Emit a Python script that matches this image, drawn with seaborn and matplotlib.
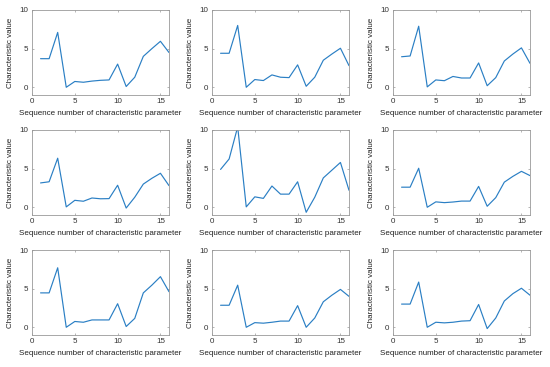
import numpy as np
import pandas as pd
import matplotlib
matplotlib.use("Agg")
import matplotlib.pyplot as plt
import seaborn as sns

seq = list(range(1, 17))
p1 = [3.7, 3.7, 7.1, 0.0, 0.75, 0.65, 0.8, 0.9, 0.95, 3.0, 0.1, 1.3, 4.0, 5.0, 5.95, 4.5]
p2 = [4.4, 4.4, 8.0, 0.0, 1.0, 0.87, 1.6, 1.3, 1.25, 2.9, 0.13, 1.3, 3.5, 4.3, 5.05, 2.8]
p3 = [3.95, 4.05, 7.9, 0.05, 0.95, 0.85, 1.4, 1.2, 1.2, 3.15, 0.2, 1.25, 3.4, 4.3, 5.1, 3.1]
p4 = [3.15, 3.3, 6.35, 0.05, 0.9, 0.78, 1.2, 1.1, 1.12, 2.85, -0.1, 1.3, 3.0, 3.75, 4.4, 2.8]
p5 = [4.9, 6.25, 10.4, 0.05, 1.35, 1.15, 2.75, 1.7, 1.7, 3.3, -0.65, 1.3, 3.8, 4.8, 5.8, 2.2]
p6 = [2.6, 2.6, 5.05, 0.0, 0.7, 0.6, 0.68, 0.8, 0.8, 2.7, 0.13, 1.25, 3.25, 4.0, 4.65, 4.1]
p7 = [4.45, 4.45, 7.7, 0.0, 0.75, 0.65, 0.95, 0.95, 0.95, 3.05, 0.1, 1.15, 4.45, 5.45, 6.55, 4.6]
p8 = [2.85, 2.85, 5.45, 0.0, 0.6, 0.53, 0.65, 0.8, 0.8, 2.8, 0.0, 1.2, 3.3, 4.15, 4.9, 4.0]
p9 = [3.0, 3.0, 5.85, 0.0, 0.65, 0.57, 0.65, 0.8, 0.85, 2.95, -0.17, 1.2, 3.4, 4.35, 5.05, 4.15]
panels = [p1, p2, p3, p4, p5, p6, p7, p8, p9]

xlabel = "Sequence number of characteristic parameter"
ylabel = "Characteristic value"
xticks = [0, 5, 10, 15]
yticks = [0, 5, 10]

sns.set_style("white")
plt.rcParams['font.family'] = ['Liberation Sans', 'DejaVu Sans']

fig = plt.figure(figsize=(5.5, 3.67), dpi=100)
lefts = [32, 212, 393]
bottoms_px = [95, 215, 335]
w_px, h_px = 137, 85
W, H = 550, 367
fs = 5.8

for i, vals in enumerate(panels):
    r, c = divmod(i, 3)
    ax = fig.add_axes([lefts[c] / W, 1 - bottoms_px[r] / H, w_px / W, h_px / H])
    df = pd.DataFrame({"x": seq, "y": vals})
    sns.lineplot(data=df, x="x", y="y", ax=ax, color="#2a7fc4", linewidth=0.85)
    ax.set_xlim(0, 16)
    ax.set_ylim(-1, 10)
    ax.set_xticks(xticks)
    ax.set_yticks(yticks)
    ax.tick_params(direction="in", length=1.5, width=0.5, colors="#999999",
                   labelcolor="#333333", labelsize=fs, pad=2.5,
                   top=True, right=True, bottom=True, left=True)
    for s in ax.spines.values():
        s.set_color("#999999")
        s.set_linewidth(0.6)
    ax.set_xlabel(xlabel, fontsize=fs, color="#222222", labelpad=3)
    ax.set_ylabel(ylabel, fontsize=fs, color="#222222", labelpad=4)

fig.savefig("out.png", dpi=100)
